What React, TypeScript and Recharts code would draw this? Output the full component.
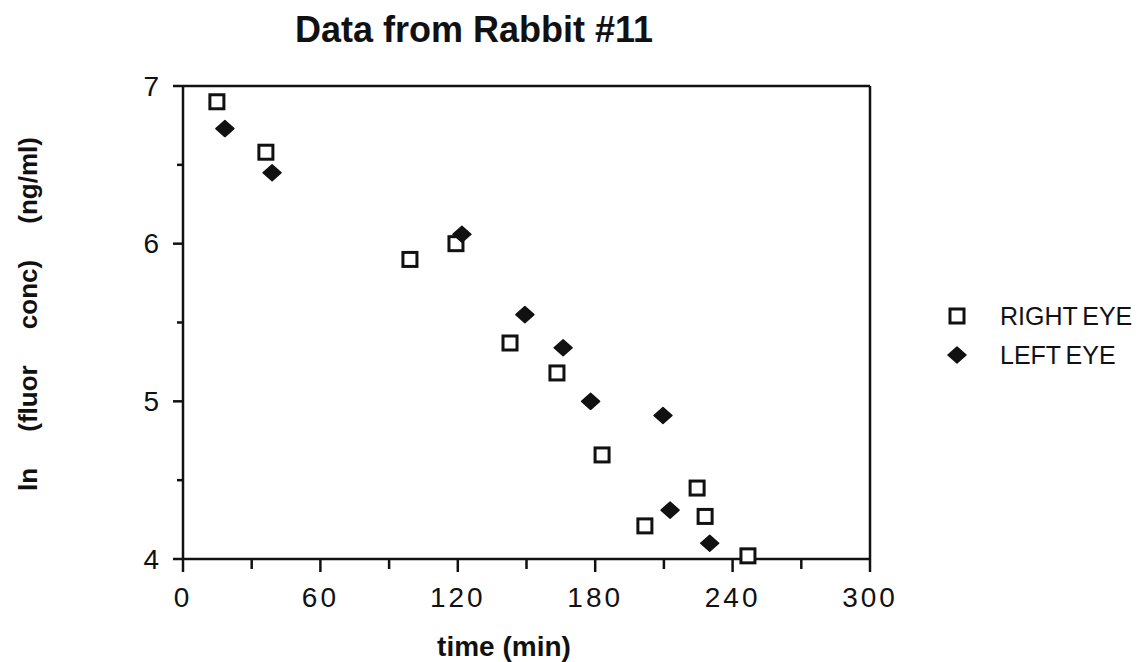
import {
	ReferenceLine,
	Scatter,
	ScatterChart,
	XAxis,
	YAxis,
} from 'recharts'

const rightEyeTime = [14.8, 36.2, 99.1, 119.2, 142.8, 163.3, 183, 201.7, 224.5, 228, 246.7]
const rightEyeConc = [6.9, 6.58, 5.9, 6.0, 5.37, 5.18, 4.66, 4.21, 4.45, 4.27, 4.02]

const leftEyeTime = [18.3, 38.9, 121.8, 149.3, 166, 178, 209.6, 212.7, 230]
const leftEyeConc = [6.73, 6.45, 6.06, 5.55, 5.34, 5.0, 4.91, 4.31, 4.1]

const xTicks = [0, 30, 60, 90, 120, 150, 180, 210, 240, 270, 300]
const yTicks = [4, 4.5, 5, 5.5, 6, 6.5, 7]

const legendNames = ['RIGHT EYE', 'LEFT EYE']

const rightEye = rightEyeTime.map((t, i) => ({ t, v: rightEyeConc[i] }))
const leftEye = leftEyeTime.map((t, i) => ({ t, v: leftEyeConc[i] }))

const font = '"Liberation Sans", Arial, sans-serif'

const Square = (props: any) => {
	const { cx, cy } = props
	return (
		<rect x={cx - 7} y={cy - 7} width={14} height={14} fill='#fff' stroke='#111' strokeWidth={3} />
	)
}

const Diamond = (props: any) => {
	const { cx, cy } = props
	return (
		<polygon
			points={`${cx - 9},${cy} ${cx},${cy - 8} ${cx + 9},${cy} ${cx},${cy + 8}`}
			fill='#111'
			stroke='#111'
			strokeWidth={1.5}
			strokeLinejoin='round'
		/>
	)
}

const YTick = (props: any) => {
	const { x, y, payload } = props
	const major = Number.isInteger(payload.value)
	return (
		<g>
			<line x1={x - (major ? 10 : 6)} y1={y} x2={x} y2={y} stroke='#111' strokeWidth={2.5} />
			{major && (
				<text x={x - 24} y={y} textAnchor='end' dominantBaseline='central' fontSize={28} fontFamily={font} fill='#111'>
					{payload.value}
				</text>
			)}
		</g>
	)
}

const XTick = (props: any) => {
	const { x, y, payload } = props
	const major = payload.value % 60 === 0
	return (
		<g>
			<line x1={x} y1={y} x2={x} y2={y + (major ? 13 : 10)} stroke='#111' strokeWidth={2.5} />
			{major && (
				<text x={x} y={y + 38} textAnchor='middle' dominantBaseline='central' fontSize={28} letterSpacing={3} fontFamily={font} fill='#111'>
					{payload.value}
				</text>
			)}
		</g>
	)
}

export default function App() {
	return (
		<div style={{ position: 'absolute', left: 0, top: 0, background: '#fff' }}>
			<ScatterChart width={1146} height={662} margin={{ top: 86, right: 276, bottom: 53, left: 123 }}>
				<text x={474} y={29} textAnchor='middle' dominantBaseline='central' fontSize={36} fontWeight='bold' fontFamily={font} fill='#111'>
					Data from Rabbit #11
				</text>
				<text x={504} y={646} textAnchor='middle' dominantBaseline='central' fontSize={28} fontWeight='bold' fontFamily={font} fill='#111'>
					time (min)
				</text>
				<text
					x={28}
					y={314}
					transform='rotate(-90 28 314)'
					textAnchor='middle'
					dominantBaseline='central'
					fontSize={26}
					fontWeight='bold'
					fontFamily={font}
					fill='#111'
					style={{ whiteSpace: 'pre' }}
				>
					{'ln     (fluor     conc)     (ng/ml)'}
				</text>
				<XAxis
					type='number'
					dataKey='t'
					domain={[0, 300]}
					ticks={xTicks}
					tick={<XTick />}
					tickLine={false}
					tickSize={0}
					tickMargin={0}
					height={50}
					axisLine={{ stroke: '#111', strokeWidth: 2.5 }}
				/>
				<YAxis
					type='number'
					dataKey='v'
					domain={[4, 7]}
					ticks={yTicks}
					tick={<YTick />}
					tickLine={false}
					tickSize={0}
					tickMargin={0}
					width={60}
					axisLine={{ stroke: '#111', strokeWidth: 2.5 }}
				/>
				<ReferenceLine y={7} stroke='#111' strokeWidth={2.5} />
				<ReferenceLine x={300} stroke='#111' strokeWidth={2.5} />
				<Scatter name={legendNames[0]} data={rightEye} shape={<Square />} isAnimationActive={false} />
				<Scatter name={legendNames[1]} data={leftEye} shape={<Diamond />} isAnimationActive={false} />
				<g>
					<Square cx={957} cy={316} />
					<text x={1000} y={316} dominantBaseline='central' fontSize={25} fontFamily={font} wordSpacing={-2} fill='#111'>
						{legendNames[0]}
					</text>
					<Diamond cx={957} cy={355} />
					<text x={1000} y={355} dominantBaseline='central' fontSize={25} fontFamily={font} wordSpacing={-2} fill='#111'>
						{legendNames[1]}
					</text>
				</g>
			</ScatterChart>
		</div>
	)
}
